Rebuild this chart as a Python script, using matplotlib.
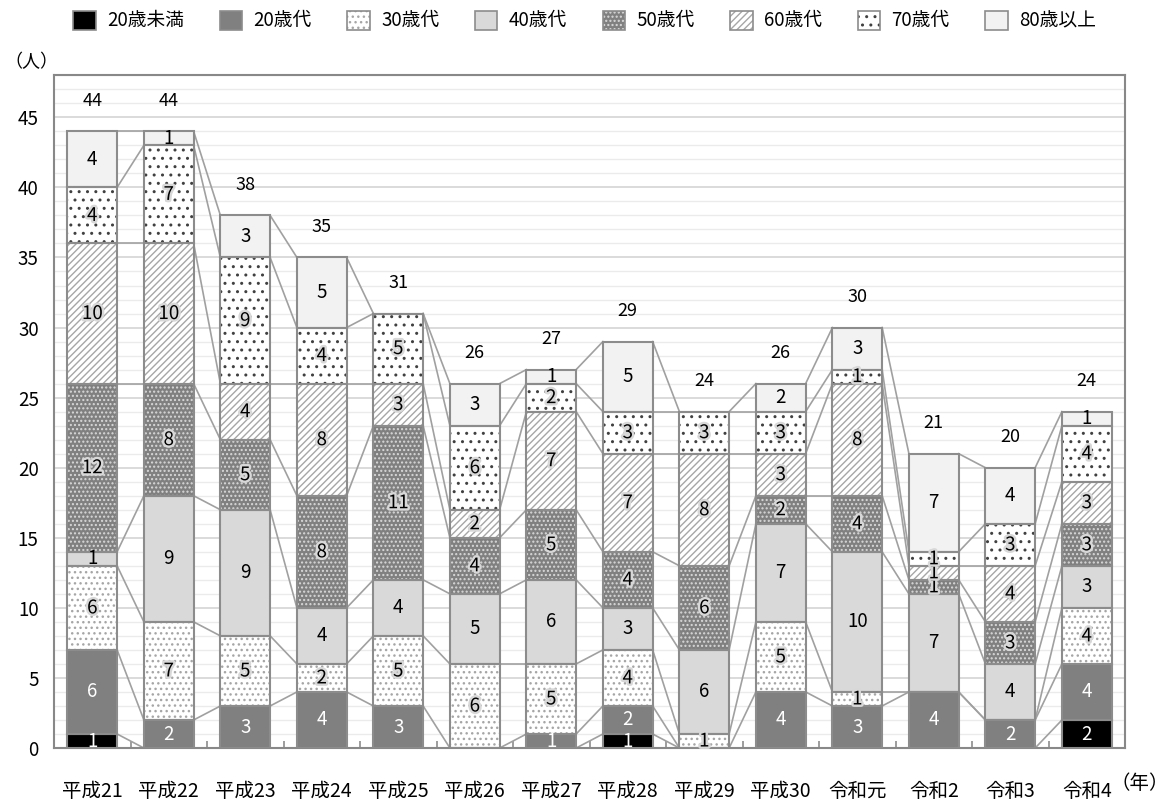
import numpy as np
import matplotlib
matplotlib.use("Agg")
import matplotlib.pyplot as plt
import matplotlib.patheffects as pe
from matplotlib.patches import Patch

plt.rcParams['font.family'] = ['Noto Sans CJK JP', 'DejaVu Sans']

years = ["平成21", "平成22", "平成23", "平成24", "平成25", "平成26", "平成27",
         "平成28", "平成29", "平成30", "令和元", "令和2", "令和3", "令和4"]
series = ["20歳未満", "20歳代", "30歳代", "40歳代", "50歳代", "60歳代", "70歳代", "80歳以上"]

under20 = [1, 0, 0, 0, 0, 0, 0, 1, 0, 0, 0, 0, 0, 2]
age20 = [6, 2, 3, 4, 3, 0, 1, 2, 0, 4, 3, 4, 2, 4]
age30 = [6, 7, 5, 2, 5, 6, 5, 4, 1, 5, 1, 0, 0, 4]
age40 = [1, 9, 9, 4, 4, 5, 6, 3, 6, 7, 10, 7, 4, 3]
age50 = [12, 8, 5, 8, 11, 4, 5, 4, 6, 2, 4, 1, 3, 3]
age60 = [10, 10, 4, 8, 3, 2, 7, 7, 8, 3, 8, 1, 4, 3]
age70 = [4, 7, 9, 4, 5, 6, 2, 3, 3, 3, 1, 1, 3, 4]
over80 = [4, 1, 3, 5, 0, 3, 1, 5, 0, 2, 3, 7, 4, 1]

data = [under20, age20, age30, age40, age50, age60, age70, over80]

# face, hatch, hatch colour, text colour, glow
styles = [
    ("#000000", None, "#000000", "white", False),
    ("#808080", None, "#808080", "white", False),
    ("#ffffff", "...", "#a6a6a6", "black", True),
    ("#d9d9d9", None, "#d9d9d9", "black", False),
    ("#808080", "....", "#d9d9d9", "black", True),
    ("#ffffff", "/////", "#a6a6a6", "black", True),
    ("#ffffff", "..", "#404040", "black", True),
    ("#f2f2f2", None, "#f2f2f2", "black", False),
]
edge = "#8c8c8c"
w = 0.65

fig = plt.figure(figsize=(11.69, 7.99), dpi=100)
ax = fig.add_axes([0.0462, 0.0638, 0.9162, 0.842])

x = np.arange(len(years))
bottom = np.zeros(len(years))
tops = []
handles = []
for vals, (face, hatch, hcol, tcol, glow) in zip(data, styles):
    v = np.array(vals, dtype=float)
    ax.bar(x, v, w, bottom=bottom, color=face, edgecolor=hcol, hatch=hatch,
           linewidth=0, zorder=3)
    ax.bar(x, v, w, bottom=bottom, fill=False, edgecolor=edge, linewidth=1.5, zorder=4)
    for i in range(len(x)):
        if v[i] > 0:
            kw = {}
            if glow:
                kw['path_effects'] = [pe.withStroke(linewidth=3.5, foreground="#d8d8d8")]
            ax.text(x[i], bottom[i] + v[i] / 2, str(int(v[i])), ha='center', va='center',
                    fontsize=13.5, color=tcol, zorder=6, **kw)
    bottom = bottom + v
    tops.append(bottom.copy())
    handles.append((Patch(facecolor=face, edgecolor=hcol, hatch=hatch, linewidth=0),
                    Patch(fill=False, edgecolor=edge, linewidth=1.2)))

# series lines between bars
for t in tops:
    for i in range(len(x) - 1):
        ax.plot([x[i] + w / 2, x[i + 1] - w / 2], [t[i], t[i + 1]],
                color="#a0a0a0", linewidth=1.2, zorder=2)

totals = bottom
for i in range(len(x)):
    ax.annotate(str(int(totals[i])), (x[i], totals[i]), xytext=(0, 22),
                textcoords='offset points', ha='center', va='center', fontsize=13)

ax.set_xlim(-0.5, len(years) - 0.5)
ax.set_ylim(0, 48)
ax.set_yticks(np.arange(0, 46, 5))
ax.set_yticks(np.arange(0, 49, 1), minor=True)
ax.tick_params(axis='y', which='both', length=0, labelsize=13.5, pad=11)
ax.set_xticks(x)
ax.set_xticklabels(years)
ax.set_xticks(np.arange(0.5, len(years) - 1, 1), minor=True)
ax.tick_params(axis='x', which='major', length=0, labelsize=14, pad=24)
ax.tick_params(axis='x', which='minor', direction='in', length=5, color=edge, width=1.2)
ax.grid(axis='y', which='minor', color="#ebebeb", linewidth=1, zorder=0)
ax.grid(axis='y', which='major', color="#d4d4d4", linewidth=1.2, zorder=0)
ax.set_axisbelow(True)
for s in ax.spines.values():
    s.set_color("#888888")
    s.set_linewidth(1.5)

fig.text(0.027, 0.922, "（人）", fontsize=13, ha='center', va='center')
fig.text(0.975, 0.02, "（年）", fontsize=14, ha='center', va='center')

fig.legend(handles, series, loc='upper center', bbox_to_anchor=(0.5, 1.008), ncol=8,
           frameon=False, fontsize=13.5, handlelength=1.2, handleheight=1.2,
           columnspacing=1.9, handletextpad=0.6)

fig.savefig("out.png", dpi=100)
